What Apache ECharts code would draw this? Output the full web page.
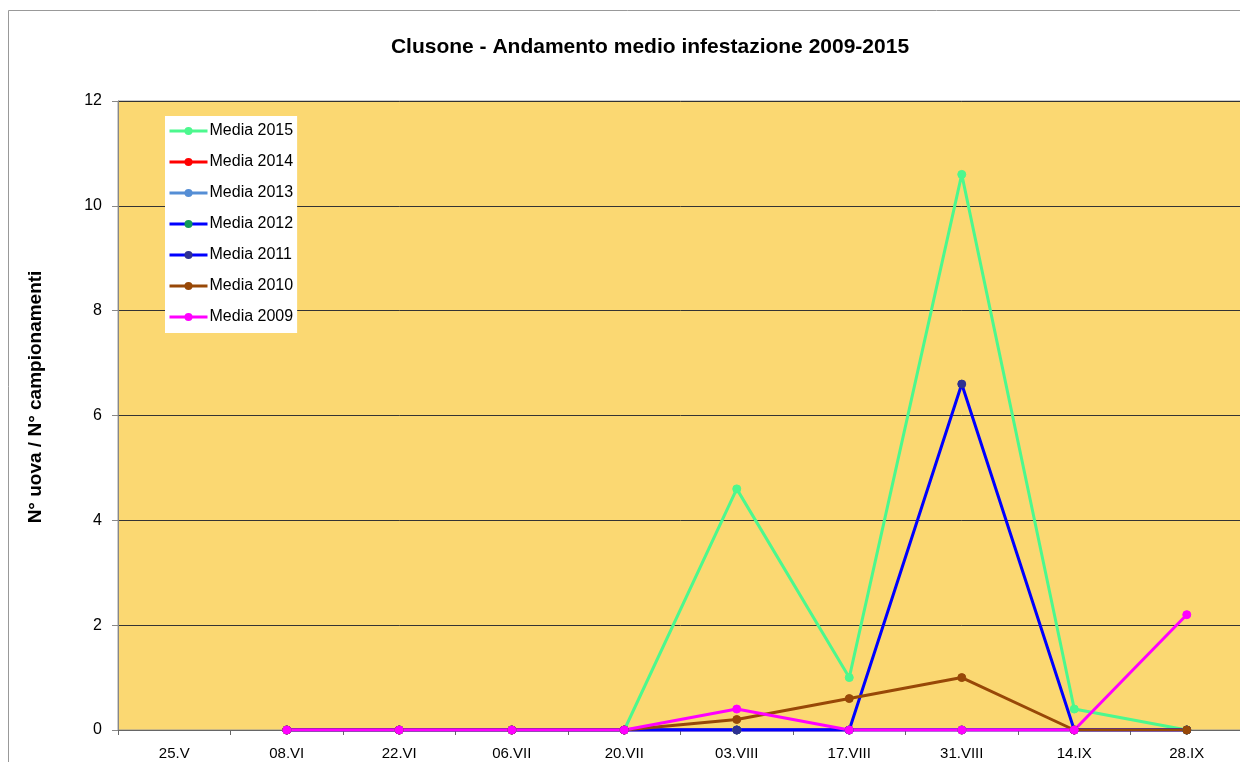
<!DOCTYPE html>
<html>
<head>
<meta charset="utf-8">
<script src="https://cdn.jsdelivr.net/npm/echarts@6/dist/echarts.min.js"></script>
<style>
html,body{margin:0;padding:0;background:#fff;overflow:hidden;}
#c{width:1245px;height:762px;}
</style>
</head>
<body>
<div id="c"></div>
<script>
var categories = ['25.V','08.VI','22.VI','06.VII','20.VII','03.VIII','17.VIII','31.VIII','14.IX','28.IX'];
var yTicks = [0, 2, 4, 6, 8, 10, 12];
var media2015 = [null, 0, 0, 0, 0, 4.6, 1.0, 10.6, 0.4, 0];
var media2014 = [null, 0, 0, 0, 0, 0, 0, 0, 0, 0];
var media2013 = [null, 0, 0, 0, 0, 0, 0, 0, 0, 0];
var media2012 = [null, 0, 0, 0, 0, 0, 0, 0, 0, 0];
var media2011 = [null, 0, 0, 0, 0, 0, 0, 6.6, 0, 0];
var media2010 = [null, 0, 0, 0, 0, 0.2, 0.6, 1.0, 0, 0];
var media2009 = [null, 0, 0, 0, 0, 0.4, 0, 0, 0, 2.2];

var seriesDefs = [
  {name:'Media 2015', data:media2015, line:'#4CF88E', mark:'#4CF88E'},
  {name:'Media 2014', data:media2014, line:'#FF0000', mark:'#FF0000'},
  {name:'Media 2013', data:media2013, line:'#558ED5', mark:'#558ED5'},
  {name:'Media 2012', data:media2012, line:'#0000FF', mark:'#129A5A'},
  {name:'Media 2011', data:media2011, line:'#0000FF', mark:'#2E3192'},
  {name:'Media 2010', data:media2010, line:'#984807', mark:'#984807'},
  {name:'Media 2009', data:media2009, line:'#FF00FF', mark:'#FF00FF'}
];

var chart = echarts.init(document.getElementById('c'), null, {renderer:'canvas'});
var font = 'Liberation Sans, Arial, sans-serif';
chart.setOption({
  animation: false,
  backgroundColor: '#fff',
  title: {
    text: 'Clusone - Andamento medio infestazione 2009-2015',
    left: 645, top: 32, textAlign: 'center',
    textStyle: {fontFamily: font, fontSize: 21, fontWeight: 'bold', color: '#000'}
  },
  graphic: [
    {type:'rect', shape:{x:8.5, y:10.5, width:1300, height:800}, style:{fill:'none', stroke:'#999', lineWidth:1}, z:-1},
    {type:'text', x:36, y:397, rotation: Math.PI/2,
     style:{text:'N° uova / N° campionamenti', align:'center', verticalAlign:'middle', font:'bold 19px Liberation Sans, Arial, sans-serif', fill:'#000'}}
  ],
  legend: {
    orient: 'vertical',
    left: 165, top: 116,
    backgroundColor: '#fff',
    padding: [7, 4, 8, 3],
    itemWidth: 38, itemHeight: 10,
    itemGap: 15,
    data: seriesDefs.map(function(s){
      return {name: s.name, lineStyle: {width: 3, color: s.line}, itemStyle: {color: s.mark}};
    }),
    textStyle: {fontFamily: font, fontSize: 16, color: '#000', padding:[0,0,0,-3]}
  },
  grid: {
    left: 118, top: 101, right: 2, bottom: 32,
    show: true, backgroundColor: '#FBD872', borderColor: '#999', borderWidth: 1
  },
  xAxis: {
    type: 'category',
    data: categories,
    boundaryGap: true,
    axisLine: {lineStyle: {color: '#666', width: 1}},
    axisTick: {show: true, alignWithLabel: false, length: 5, lineStyle: {color: '#666'}},
    axisLabel: {fontFamily: font, fontSize: 15, color: '#000', margin: 16, interval: 0}
  },
  yAxis: {
    type: 'value',
    min: yTicks[0], max: yTicks[yTicks.length-1], interval: 2,
    axisLine: {show: true, lineStyle: {color: '#888'}},
    axisTick: {show: true, inside: false, length: 6, lineStyle: {color: '#888'}},
    axisLabel: {fontFamily: font, fontSize: 16, color: '#000', margin: 16},
    splitLine: {show: true, lineStyle: {color: '#333', width: 1}}
  },
  series: seriesDefs.map(function(s){
    return {
      name: s.name, type: 'line', data: s.data,
      symbol: 'circle', symbolSize: 8, showSymbol: true,
      connectNulls: false,
      lineStyle: {color: s.line, width: 3},
      itemStyle: {color: s.mark, borderColor: s.mark},
      color: s.line
    };
  })
});
</script>
</body>
</html>
